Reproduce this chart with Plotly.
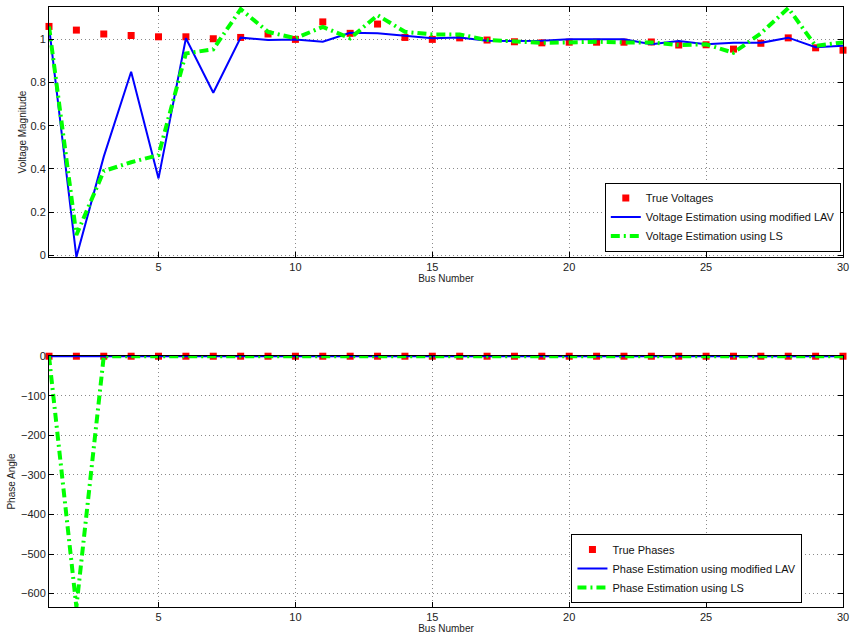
import plotly.graph_objects as go

# Bus indices for the IEEE 30-bus system
buses = list(range(1, 31))

# Voltage magnitudes (p.u.)
true_voltages = [1.060, 1.043, 1.025, 1.018, 1.012, 1.012, 1.003, 1.009, 1.025, 1.000,
                 1.081, 1.028, 1.071, 1.009, 1.000, 1.007, 0.997, 0.989, 0.984, 0.987,
                 0.987, 0.987, 0.988, 0.974, 0.975, 0.955, 0.982, 1.007, 0.961, 0.950]
lav_voltages = [1.060, -0.008, 0.457, 0.850, 0.356, 1.005, 0.753, 1.008, 0.997, 1.000,
                0.989, 1.031, 1.028, 1.015, 1.005, 1.009, 0.994, 0.992, 0.994, 1.001,
                1.001, 1.001, 0.977, 0.992, 0.977, 0.984, 0.984, 1.008, 0.964, 0.970]
ls_voltages = [1.060, 0.094, 0.390, 0.431, 0.464, 0.935, 0.954, 1.140, 1.035, 1.005,
               1.058, 1.005, 1.112, 1.035, 1.023, 1.023, 0.997, 0.989, 0.984, 0.986,
               0.989, 0.986, 0.986, 0.974, 0.977, 0.938, 1.028, 1.145, 0.970, 0.986]

# Phase angles
true_phases = [0.0] * 30
lav_phases = [0.0] * 30
ls_phases = [0.0, -634.0] + [0.0] * 28

RED = "#FF0000"
BLUE = "#0000FF"
GREEN = "#00FF00"
LS_DASH = "9px,4px,2px,4px"

fig = go.Figure()

# Upper panel: voltage magnitudes
fig.add_trace(go.Scatter(x=buses, y=true_voltages, mode="markers", name="True Voltages",
                         marker=dict(symbol="square", size=7, color=RED),
                         cliponaxis=False, xaxis="x", yaxis="y", legend="legend"))
fig.add_trace(go.Scatter(x=buses, y=lav_voltages, mode="lines",
                         name="Voltage Estimation using modified LAV",
                         line=dict(color=BLUE, width=2),
                         cliponaxis=False, xaxis="x", yaxis="y", legend="legend"))
fig.add_trace(go.Scatter(x=buses, y=ls_voltages, mode="lines",
                         name="Voltage Estimation using LS",
                         line=dict(color=GREEN, width=4, dash=LS_DASH),
                         cliponaxis=False, xaxis="x", yaxis="y", legend="legend"))

# Lower panel: phase angles
fig.add_trace(go.Scatter(x=buses, y=true_phases, mode="markers", name="True Phases",
                         marker=dict(symbol="square", size=7, color=RED),
                         cliponaxis=False, xaxis="x2", yaxis="y2", legend="legend2"))
fig.add_trace(go.Scatter(x=buses, y=lav_phases, mode="lines",
                         name="Phase Estimation using modified LAV",
                         line=dict(color=BLUE, width=2),
                         cliponaxis=False, xaxis="x2", yaxis="y2", legend="legend2"))
fig.add_trace(go.Scatter(x=buses, y=ls_phases, mode="lines",
                         name="Phase Estimation using LS",
                         line=dict(color=GREEN, width=4, dash=LS_DASH),
                         cliponaxis=False, xaxis="x2", yaxis="y2", legend="legend2"))

axis_common = dict(
    showline=True, linecolor="black", linewidth=1, mirror="ticks",
    ticks="inside", ticklen=5, tickcolor="black",
    showgrid=True, gridcolor="#8a8a8a", gridwidth=1, griddash="1px,3px",
    zeroline=False, tickfont=dict(size=11, color="#222"), automargin=False,
)

title_font = dict(size=10, color="#222")

fig.update_layout(
    width=851, height=641,
    margin=dict(l=49, r=8, t=7, b=34),
    paper_bgcolor="white", plot_bgcolor="white",
    font=dict(family="Liberation Sans, Arial, sans-serif", color="#222"),
    xaxis=dict(axis_common, domain=[0, 1], range=[1, 30], tickvals=[5, 10, 15, 20, 25, 30],
               anchor="y", title=dict(text="Bus Number", font=title_font, standoff=2)),
    yaxis=dict(axis_common, domain=[0.5833, 1], range=[-0.008, 1.15],
               tickvals=[0, 0.2, 0.4, 0.6, 0.8, 1], ticktext=["0", "0.2", "0.4", "0.6", "0.8", "1"],
               anchor="x", title=dict(text="Voltage Magnitude", font=title_font, standoff=1)),
    xaxis2=dict(axis_common, domain=[0, 1], range=[1, 30], tickvals=[5, 10, 15, 20, 25, 30],
                anchor="y2", title=dict(text="Bus Number", font=title_font, standoff=2)),
    yaxis2=dict(axis_common, domain=[0, 0.4183], range=[-634, 0.5],
                tickvals=[0, -100, -200, -300, -400, -500, -600],
                anchor="x2", title=dict(text="Phase Angle", font=title_font, standoff=3)),
    legend=dict(x=0.700, y=0.65, xanchor="left", yanchor="middle",
                bgcolor="white", bordercolor="black", borderwidth=1,
                font=dict(size=11, color="#111"), tracegroupgap=0,
                itemwidth=30),
    legend2=dict(x=0.658, y=0.0642, xanchor="left", yanchor="middle",
                 bgcolor="white", bordercolor="black", borderwidth=1,
                 font=dict(size=11, color="#111"), tracegroupgap=0,
                 itemwidth=30),
)

fig.write_html("out.html")
